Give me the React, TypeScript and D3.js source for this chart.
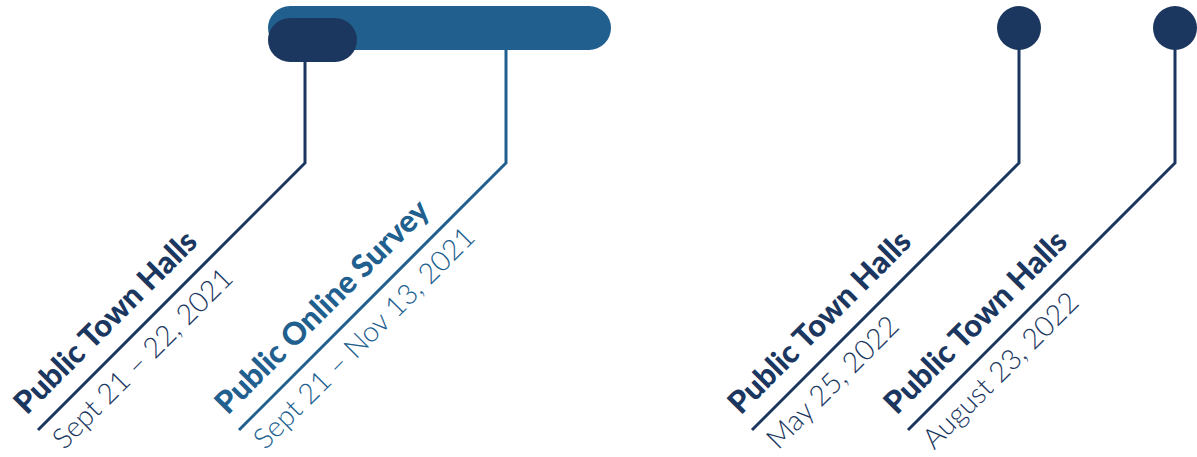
import React from "react";
import * as d3 from "d3";

const W = 1197;
const H = 457;

const NAVY = "#1b375f";
const BLUE = "#21608e";

// Event data
const titles = ["Public Town Halls", "Public Online Survey", "Public Town Halls", "Public Town Halls"];
const dateLabels = ["Sept 21 – 22, 2021", "Sept 21 – Nov 13, 2021", "May 25, 2022", "August 23, 2022"];
const startDates = ["2021-09-21", "2021-09-21", "2022-05-25", "2022-08-23"];
const endDates = ["2021-09-22", "2021-11-13", "2022-05-25", "2022-08-23"];
const markerKinds = ["bar", "bar", "dot", "dot"];
const colorKeys = ["navy", "blue", "navy", "navy"];

const parse = d3.timeParse("%Y-%m-%d");

export default function App() {
  // polylinear time scale (infographic layout)
  const x = d3
    .scaleTime()
    .domain(["2021-09-21", "2021-11-13", "2022-05-25", "2022-08-23"].map((s) => parse(s)!))
    .range([268, 611, 1019, 1175]);

  const color = d3.scaleOrdinal<string, string>().domain(["navy", "blue"]).range([NAVY, BLUE]);

  const barH = 44;
  const minPill = 89;
  const topY = 6;
  const elbowY = 163;
  const endY = 430;
  const diag = endY - elbowY;

  const events = titles.map((t, i) => {
    const s = parse(startDates[i])!;
    const e = parse(endDates[i])!;
    const x0 = x(s);
    const x1 = Math.max(x(e), x0 + minPill);
    return { t, d: dateLabels[i], x0, x1, kind: markerKinds[i], c: color(colorKeys[i]), i };
  });

  // leader anchor x
  const leaderX = (ev: any) => {
    if (ev.kind === "dot") return ev.x0;
    return ev.i === 0 ? ev.x0 + 37 : ev.x0 + 238;
  };

  // draw order: long bar first, then short pill above it
  const barOrder = [1, 0];

  return (
    <div style={{ position: "fixed", left: 0, top: 0 }}>
      <svg width={W} height={H} style={{ display: "block" }}>
        <rect width={W} height={H} fill="#ffffff" />
        {barOrder.map((k) => {
          const ev = events[k];
          const y = k === 1 ? topY : topY + 12;
          return (
            <rect key={"b" + k} x={ev.x0} y={y} width={ev.x1 - ev.x0} height={barH} rx={barH / 2} fill={ev.c} />
          );
        })}
        {events.map((ev) => {
          const lx = leaderX(ev);
          const y0 = ev.kind === "dot" ? topY + 22 : ev.i === 1 ? topY + barH : topY + 12 + barH;
          const path = d3.path();
          path.moveTo(lx, y0);
          path.lineTo(lx, elbowY);
          path.lineTo(lx - diag, endY);
          const ex = lx - diag;
          return (
            <g key={"e" + ev.i}>
              <path d={path.toString()} fill="none" stroke={ev.c} strokeWidth={3} strokeLinejoin="miter" />
              {ev.kind === "dot" && <circle cx={lx} cy={topY + 22} r={22} fill={ev.c} />}
              <g transform={`translate(${ex},${endY}) rotate(-45)`}>
                <text
                  x={2}
                  y={-18}
                  fill={ev.c}
                  style={{ fontFamily: "Lato", fontWeight: 900, fontSize: 31 }}
                >
                  {ev.t}
                </text>
                <text
                  x={4}
                  y={33}
                  fill={ev.c}
                  style={{ fontFamily: "Lato", fontWeight: 300, fontSize: 28.5 }}
                >
                  {ev.d}
                </text>
              </g>
            </g>
          );
        })}
      </svg>
    </div>
  );
}
